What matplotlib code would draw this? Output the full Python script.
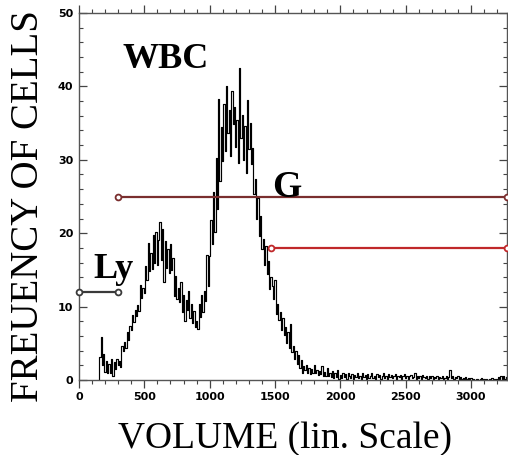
import numpy as np
import matplotlib
matplotlib.use("Agg")
import matplotlib.pyplot as plt
from matplotlib.ticker import MultipleLocator

# ---- data ----
volume_start = 150
volume_step = 10
frequency = [
    0.0, 3.2, 5.9, 2.0, 3.5, 1.1, 2.6, 0.9, 2.2, 1.0,
    2.8, 0.6, 2.4, 1.5, 2.9, 2.0, 2.6, 1.8, 4.6, 4.0,
    5.2, 4.4, 6.6, 5.5, 7.4, 6.8, 8.9, 7.9, 9.6, 8.7,
    10.2, 9.4, 13.0, 11.2, 12.5, 11.8, 15.5, 13.6, 18.6, 14.8,
    17.3, 15.1, 19.8, 16.0, 20.2, 15.6, 19.1, 21.5, 16.4, 20.6,
    13.4, 18.9, 15.2, 17.8, 14.6, 18.5, 15.0, 16.6, 11.4, 14.2,
    11.0, 12.6, 10.6, 13.3, 9.2, 11.6, 8.0, 10.9, 9.6, 12.1,
    8.5, 10.3, 7.8, 9.4, 7.2, 8.1, 6.9, 10.4, 8.6, 11.6,
    9.3, 12.1, 10.7, 17.0, 12.8, 16.9, 21.8, 18.5, 25.6, 20.2,
    30.3, 23.3, 38.3, 27.1, 34.5, 29.8, 37.6, 31.2, 40.0, 33.6,
    36.8, 30.5, 39.4, 34.9, 37.2, 31.8, 35.4, 29.6, 42.5, 33.0,
    36.1, 30.0, 34.6, 28.2, 38.2, 31.5, 35.0, 29.4, 31.6, 25.3,
    27.4, 22.0, 24.8, 19.6, 22.4, 17.8, 19.2, 15.6, 18.3, 14.5,
    16.2, 12.4, 14.0, 12.8, 11.0, 13.6, 9.0, 10.4, 8.2, 9.3,
    6.8, 8.4, 6.1, 7.2, 5.0, 6.5, 4.3, 7.6, 3.8, 4.6,
    2.8, 3.9, 2.2, 3.4, 1.6, 2.7, 1.0, 1.9, 1.3, 2.1,
    1.0, 1.6, 0.8, 1.5, 1.0, 2.0, 0.9, 1.4, 0.7, 1.2,
    0.8, 1.9, 0.6, 1.1, 0.5, 1.7, 0.6, 1.0, 0.4, 1.2,
    0.3, 0.9, 0.4, 1.3, 0.2, 0.7, 0.3, 1.0, 0.4, 0.8,
    0.2, 0.9, 0.5, 0.3, 0.8, 0.2, 0.7, 0.4, 1.0, 0.3,
    0.6, 0.2, 0.9, 0.4, 0.7, 0.2, 0.8, 0.3, 0.5, 0.9,
    0.3, 0.6, 0.2, 0.8, 0.4, 0.7, 0.2, 0.5, 0.9, 0.3,
    0.6, 0.2, 0.8, 0.4, 0.7, 0.3, 0.5, 0.8, 0.2, 0.6,
    0.4, 0.7, 0.2, 0.5, 0.8, 0.3, 0.6, 0.2, 0.5, 0.7,
    0.3, 0.4, 1.0, 0.2, 0.6, 0.3, 0.5, 0.2, 0.7, 0.4,
    0.3, 0.6, 0.2, 0.5, 0.3, 0.6, 0.2, 0.4, 0.3, 0.5,
    0.2, 0.4, 0.3, 0.6, 0.2, 0.3, 0.5, 0.2, 0.4, 1.3,
    0.3, 0.5, 0.2, 0.4, 0.3, 0.6, 0.2, 0.4, 0.1, 0.3,
    0.2, 0.4, 0.1, 0.3, 0.2, 0.3, 0.1, 0.2, 0.0, 0.1,
    0.2, 0.0, 0.1, 0.3, 0.0, 0.1, 0.0, 0.2, 0.0, 0.1,
    0.0, 0.3, 0.1, 0.0, 0.2, 0.0, 0.4, 0.1, 0.6, 0.2,
    0.5, 0.2, 0.4,
]
volume = volume_start + volume_step * np.arange(len(frequency))

# gates: (label, y level, x start, x end, colour)
gate_names = ["Ly", "G", "G2"]
gate_levels = [12, 25, 18]
gate_x0 = [0, 300, 1470]
gate_x1 = [300, 3275, 3275]
gate_colors = ["#3a3a3a", "#7a2e2e", "#c0282a"]

x_max = 3275
y_max = 50

# ---- figure ----
fig = plt.figure(figsize=(5.08, 4.55), dpi=100)
ax = fig.add_axes([79 / 508, 75 / 455, (507 - 79) / 508, (380 - 13) / 455])

ax.plot(volume, frequency, drawstyle="steps-mid", color="black", lw=0.85)

for name, lvl, x0, x1, c in zip(gate_names, gate_levels, gate_x0, gate_x1, gate_colors):
    ax.plot([x0, x1], [lvl, lvl], color=c, lw=1.6, clip_on=False, zorder=3)
    ax.plot([x0, x1], [lvl, lvl], ls="none", marker="o", ms=4.2, mfc="white",
            mec=c, mew=1.3, clip_on=False, zorder=4)

ax.set_xlim(0, x_max)
ax.set_ylim(0, y_max)

tick_font = dict(family=["Liberation Sans Narrow", "DejaVu Sans Condensed", "DejaVu Sans"],
                 weight="bold", size=8)
ax.xaxis.set_major_locator(MultipleLocator(500))
ax.xaxis.set_minor_locator(MultipleLocator(100))
ax.yaxis.set_major_locator(MultipleLocator(10))
ax.yaxis.set_minor_locator(MultipleLocator(2))
ax.tick_params(axis="x", which="both", direction="out", top=True, bottom=True,
               colors="#444444", labelcolor="black", pad=3)
ax.tick_params(axis="y", which="both", direction="in", left=True, right=True,
               colors="#444444", labelcolor="black", pad=4)
ax.tick_params(which="major", length=6, width=0.9)
ax.tick_params(which="minor", length=3, width=0.8)
for lab in ax.get_xticklabels() + ax.get_yticklabels():
    lab.set_fontproperties(matplotlib.font_manager.FontProperties(**tick_font))
for sp in ax.spines.values():
    sp.set_color("#555555")
    sp.set_linewidth(1.0)

serif = ["Liberation Serif", "DejaVu Serif"]
ax.text(336, 42.5, "WBC", family=serif, weight="bold", fontsize=26, va="baseline", ha="left")
ax.text(1474, 24.9, "G", family=serif, weight="bold", fontsize=27, va="baseline", ha="left")
ax.text(107, 13.9, "Ly", family=serif, weight="bold", fontsize=26, va="baseline", ha="left")

fig.text(28.5 / 508, 1 - 206 / 455, "FREUENCY OF CELLS", family=serif, fontsize=28,
         rotation=90, ha="center", va="center")
fig.text(285 / 508, 7 / 455, "VOLUME (lin. Scale)", family=serif, fontsize=27,
         ha="center", va="baseline")

fig.savefig("out.png", dpi=100)
